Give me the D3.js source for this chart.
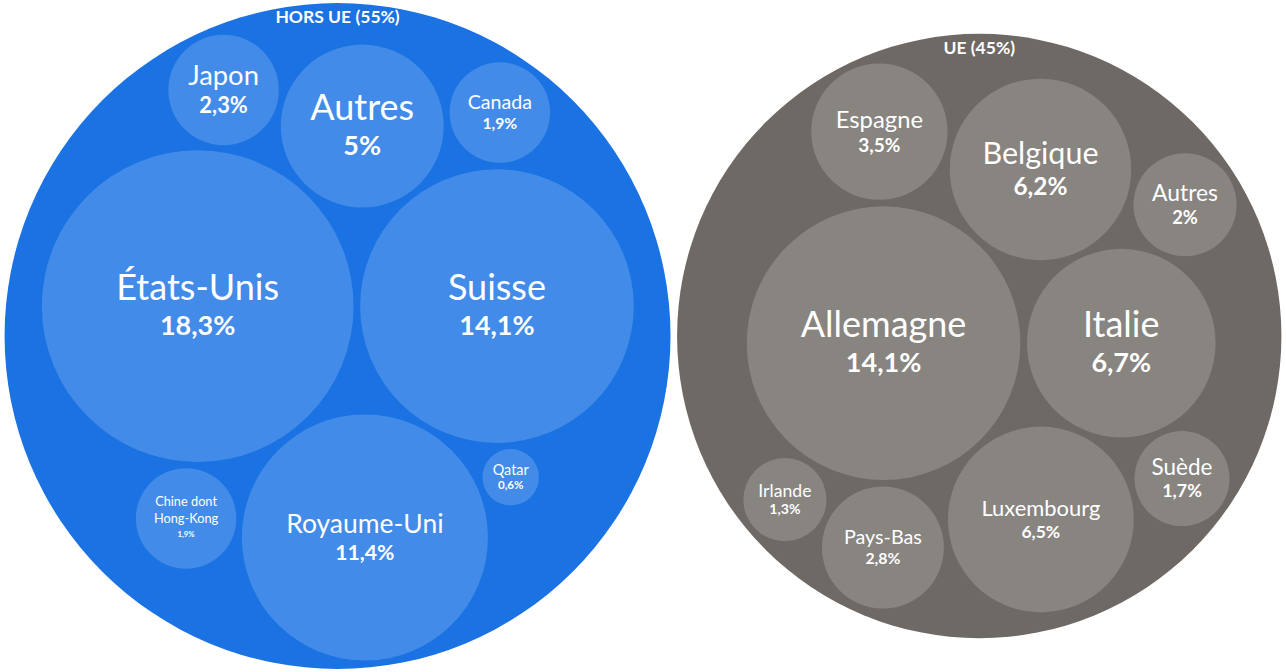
<!DOCTYPE html>
<html><head><meta charset="utf-8">
<script src="https://cdn.jsdelivr.net/npm/d3@7"></script>
<style>html,body{margin:0;padding:0;background:#fff;}svg{display:block;}</style>
</head><body>
<svg id="chart" width="1286" height="672"></svg>
<script>
const W = 1286, H = 672;
const groupNames = ["HORS UE", "UE"];
const groupShares = [55, 45];
const horsUeCountries = ["États-Unis", "Suisse", "Royaume-Uni", "Autres", "Japon", "Canada", "Chine dont Hong-Kong", "Qatar"];
const horsUeValues = [18.3, 14.1, 11.4, 5, 2.3, 1.9, 1.9, 0.6];
const ueCountries = ["Allemagne", "Italie", "Luxembourg", "Belgique", "Espagne", "Pays-Bas", "Autres", "Suède", "Irlande"];
const ueValues = [14.1, 6.7, 6.5, 6.2, 3.5, 2.8, 2, 1.7, 1.3];
const groupColors = ["#1a72e3", "#6e6964"];

const groupsData = [
  {name: groupNames[0], share: groupShares[0], color: groupColors[0],
   children: horsUeCountries.map((c, i) => ({name: c, value: horsUeValues[i]}))},
  {name: groupNames[1], share: groupShares[1], color: groupColors[1],
   children: ueCountries.map((c, i) => ({name: c, value: ueValues[i]}))}
];

const S = 1290;
const root = d3.pack().size([S, S]).padding(7)(
  d3.hierarchy({name: "root", children: groupsData})
    .sum(d => d.value || 0)
    .sort((a, b) => b.value - a.value)
);
const offX = W / 2 - root.x, offY = H / 2 - root.y;

const svg = d3.select("#chart");
const g = svg.append("g").attr("transform", `translate(${offX},${offY})`);
const fmt = v => (Number.isInteger(v) ? String(v) : v.toFixed(1).replace(".", ",")) + "%";
const FONT = "'Source Sans Pro', Lato, 'Open Sans', sans-serif";

const groups = root.children;
g.selectAll("circle.group").data(groups).join("circle")
  .attr("class", "group")
  .attr("cx", d => d.x).attr("cy", d => d.y).attr("r", d => d.r)
  .attr("fill", d => d.data.color);

g.selectAll("text.glabel").data(groups).join("text")
  .attr("class", "glabel")
  .attr("x", d => d.x).attr("y", d => d.y - d.r + 20)
  .attr("text-anchor", "middle")
  .attr("fill", "#fff").attr("font-family", FONT)
  .attr("font-weight", 700).attr("font-size", 17.5)
  .text(d => `${d.data.name} (${d.data.share}%)`);

const leaves = root.leaves();
g.selectAll("circle.leaf").data(leaves).join("circle")
  .attr("class", "leaf")
  .attr("cx", d => d.x).attr("cy", d => d.y).attr("r", d => d.r)
  .attr("fill", "#fff").attr("fill-opacity", 0.18);

function splitName(n) {
  if (n.length > 12 && n.includes(" ")) {
    const idx = n.lastIndexOf(" ");
    return [n.slice(0, idx), n.slice(idx + 1)];
  }
  return [n];
}

const meas = svg.append("text").attr("font-family", FONT).attr("font-size", 100).attr("visibility", "hidden");
function width(t) { meas.text(t); return meas.node().getComputedTextLength(); }

leaves.forEach(d => {
  const lines = splitName(d.data.name);
  const maxW = d3.max(lines, width);
  const n = lines.length;
  const fs = Math.min(36, 0.64 * 2 * d.r * 100 / maxW);
  const pfs = n > 1 ? fs * 0.6 : Math.min(27, fs * 0.8);
  const lh = fs * 1.3;
  const firstBase = d.y - 0.17 * fs - (n - 1) * lh * 0.6;
  lines.forEach((ln, i) => {
    g.append("text").attr("text-anchor", "middle").attr("fill", "#fff").attr("font-family", FONT)
      .attr("font-size", fs)
      .attr("x", d.x).attr("y", firstBase + i * lh).text(ln);
  });
  const lastBase = firstBase + (n - 1) * lh;
  g.append("text").attr("text-anchor", "middle").attr("fill", "#fff").attr("font-family", FONT)
    .attr("font-weight", 700).attr("font-size", pfs)
    .attr("x", d.x).attr("y", lastBase + (n > 1 ? 0.5 * fs : 0.25 * fs) + 0.95 * pfs)
    .text(fmt(d.data.value));
});
meas.remove();
</script>
</body></html>
